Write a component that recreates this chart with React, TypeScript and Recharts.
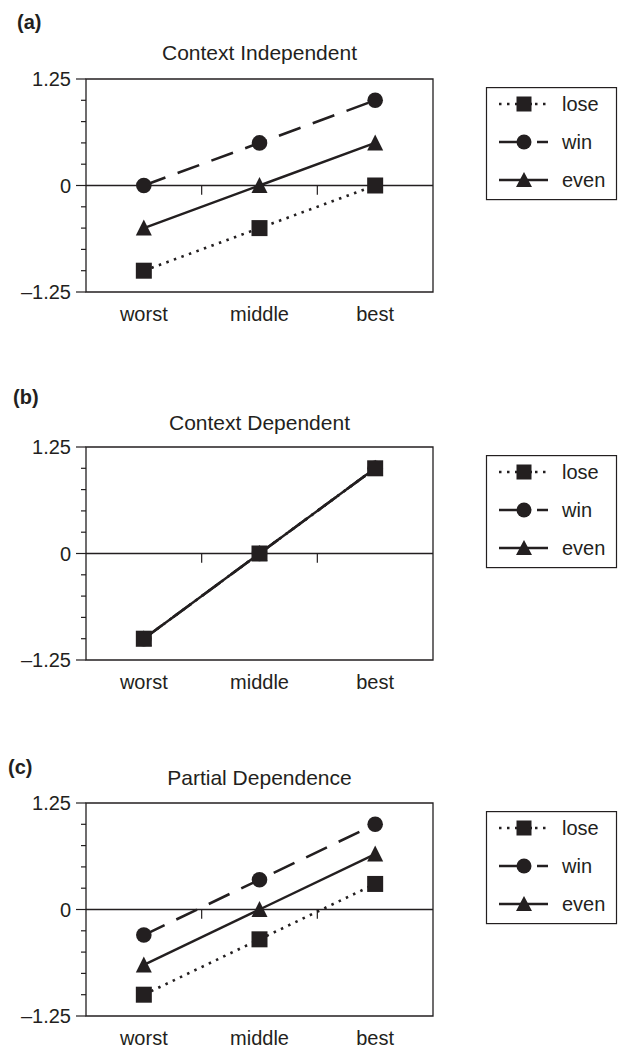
import React from 'react';
import { LineChart, Line, XAxis, YAxis, ReferenceLine, ReferenceArea } from 'recharts';

// categories on the x axis, y ticks
const categories = ['worst', 'middle', 'best'];
const yTicks = [-1.25, -1, -0.75, -0.5, -0.25, 0, 0.25, 0.5, 0.75, 1, 1.25];
const yLabels: Record<string, string> = { '1.25': '1.25', '0': '0', '-1.25': '\u20131.25' };
const seriesNames = ['lose', 'win', 'even'];

// (a) Context Independent
const loseA = [-1, -0.5, 0];
const winA = [0, 0.5, 1];
const evenA = [-0.5, 0, 0.5];
// (b) Context Dependent
const loseB = [-1, 0, 1];
const winB = [-1, 0, 1];
const evenB = [-1, 0, 1];
// (c) Partial Dependence
const loseC = [-1, -0.35, 0.3];
const winC = [-0.3, 0.35, 1];
const evenC = [-0.65, 0, 0.65];

const tags = ['(a)', '(b)', '(c)'];
const titles = ['Context Independent', 'Context Dependent', 'Partial Dependence'];
const seriesByPanel = [
  { lose: loseA, win: winA, even: evenA },
  { lose: loseB, win: winB, even: evenB },
  { lose: loseC, win: winC, even: evenC },
];

// layout only
const LAYOUT = [
  { plotTop: 79, tagX: 17, tagY: 22, titleY: 53 },
  { plotTop: 447, tagX: 13, tagY: 397, titleY: 423 },
  { plotTop: 803, tagX: 8, tagY: 767, titleY: 778 },
];

const INK = '#231f20';
const FONT = '"Liberation Sans", Arial, Helvetica, sans-serif';
const M_TOP = 10;

const buildRows = (s: { lose: number[]; win: number[]; even: number[] }) =>
  categories.map((c, i) => ({ x: i + 0.5, cat: c, lose: s.lose[i], win: s.win[i], even: s.even[i] }));

const YTick = (props: any) => {
  const { x, y, payload } = props;
  const label = yLabels[String(payload.value)];
  const len = label ? 10 : 5;
  return (
    <g>
      <line x1={x - len} x2={x} y1={y} y2={y} stroke={INK} strokeWidth={1.2} />
      {label && (
        <text x={x - 15} y={y} dy="0.36em" textAnchor="end" fontSize={20} fill={INK} fontFamily={FONT}>
          {label}
        </text>
      )}
    </g>
  );
};

const squareDot = (props: any) => {
  const { cx, cy, index } = props;
  return <rect key={`sq${index}`} x={cx - 8} y={cy - 8} width={16} height={16} fill={INK} />;
};
const circleDot = (props: any) => {
  const { cx, cy, index } = props;
  return <circle key={`ci${index}`} cx={cx} cy={cy} r={7.8} fill={INK} />;
};
const triangleDot = (props: any) => {
  const { cx, cy, index } = props;
  return <path key={`tr${index}`} d={`M${cx},${cy - 8.5} L${cx + 8},${cy + 7.5} L${cx - 8},${cy + 7.5} Z`} fill={INK} />;
};

function LegendBox() {
  const rowY = [17, 55, 93];
  return (
    <svg width={140} height={116} style={{ position: 'absolute', left: 484, top: 0 }}>
      <rect x={2.5} y={0.6} width={130} height={112} fill="#fff" stroke={INK} strokeWidth={1.2} />
      {seriesNames.map((name, i) => {
        const y = rowY[i];
        return (
          <g key={name}>
            {name === 'lose' && (
              <>
                <line x1={15} x2={48} y1={y} y2={y} stroke={INK} strokeWidth={2.5} strokeDasharray="2.5 5.5" />
                <line x1={48} x2={66} y1={y} y2={y} stroke={INK} strokeWidth={2.5} strokeDasharray="2.5 5.5" strokeDashoffset={-3} />
                <rect x={32.5} y={y - 7.5} width={15} height={15} fill={INK} />
              </>
            )}
            {name === 'win' && (
              <>
                <line x1={15} x2={40} y1={y} y2={y} stroke={INK} strokeWidth={2.5} />
                <line x1={53} x2={64} y1={y} y2={y} stroke={INK} strokeWidth={2.5} />
                <circle cx={40} cy={y} r={7.5} fill={INK} />
              </>
            )}
            {name === 'even' && (
              <>
                <line x1={15} x2={64} y1={y} y2={y} stroke={INK} strokeWidth={2.5} />
                <path d={`M40,${y - 8} L48,${y + 7} L32,${y + 7} Z`} fill={INK} />
              </>
            )}
            <text x={78} y={y} dy="0.36em" fontSize={20} fill={INK} fontFamily={FONT}>
              {name}
            </text>
          </g>
        );
      })}
    </svg>
  );
}

function Panel({ idx }: { idx: number }) {
  const lay = LAYOUT[idx];
  const rows = buildRows(seriesByPanel[idx]);
  return (
    <>
      <div
        style={{
          position: 'absolute', left: lay.tagX, top: lay.tagY - 12, height: 24, lineHeight: '24px',
          fontSize: 20, fontWeight: 'bold', color: INK, fontFamily: FONT,
        }}
      >
        {tags[idx]}
      </div>
      <div
        style={{
          position: 'absolute', left: 86, width: 347, top: lay.titleY - 13, height: 26, lineHeight: '26px',
          textAlign: 'center', fontSize: 21, color: INK, fontFamily: FONT,
        }}
      >
        {titles[idx]}
      </div>
      <div style={{ position: 'absolute', left: 0, top: lay.plotTop - M_TOP, width: 618, height: 273 }}>
        <LineChart width={618} height={273} data={rows} margin={{ top: M_TOP, right: 185, left: 0, bottom: 20 }}>
          <XAxis
            type="number"
            dataKey="x"
            domain={[0, 3]}
            ticks={[0.5, 1.5, 2.5]}
            interval={0}
            tickFormatter={(v: number) => categories[Math.floor(v)]}
            axisLine={false}
            tickLine={false}
            tickSize={6}
            tickMargin={9}
            height={30}
            tick={{ fontSize: 20, fill: INK, fontFamily: FONT }}
          />
          <YAxis
            type="number"
            domain={[-1.25, 1.25]}
            ticks={yTicks}
            interval={0}
            width={86}
            axisLine={false}
            tickLine={false}
            tickSize={0}
            tickMargin={0}
            tick={<YTick />}
            allowDataOverflow
          />
          <ReferenceArea x1={0} x2={3} y1={-1.25} y2={1.25} fill="none" fillOpacity={0} stroke={INK} strokeWidth={1.3} strokeOpacity={1} ifOverflow="visible" />
          <ReferenceLine y={0} stroke={INK} strokeWidth={1.3} />
          <ReferenceLine segment={[{ x: 1, y: 0 }, { x: 1, y: -0.11 }]} stroke={INK} strokeWidth={1.2} ifOverflow="visible" />
          <ReferenceLine segment={[{ x: 2, y: 0 }, { x: 2, y: -0.11 }]} stroke={INK} strokeWidth={1.2} ifOverflow="visible" />
          <Line type="linear" dataKey="even" stroke={INK} strokeWidth={2.4} dot={triangleDot} activeDot={false} isAnimationActive={false} />
          <Line type="linear" dataKey="win" stroke={INK} strokeWidth={2.6} strokeDasharray="23 13" dot={circleDot} activeDot={false} isAnimationActive={false} />
          <Line type="linear" dataKey="lose" stroke={INK} strokeWidth={2.6} strokeDasharray="2.5 5.5" dot={squareDot} activeDot={false} isAnimationActive={false} />
        </LineChart>
        <div style={{ position: 'absolute', left: 0, top: M_TOP + 8, width: 618 }}>
          <LegendBox />
        </div>
      </div>
    </>
  );
}

export default function App() {
  return (
    <div style={{ position: 'absolute', left: 0, top: 0, width: 618, height: 1048, background: '#fff', overflow: 'hidden' }}>
      {LAYOUT.map((_, i) => (
        <Panel key={i} idx={i} />
      ))}
    </div>
  );
}
